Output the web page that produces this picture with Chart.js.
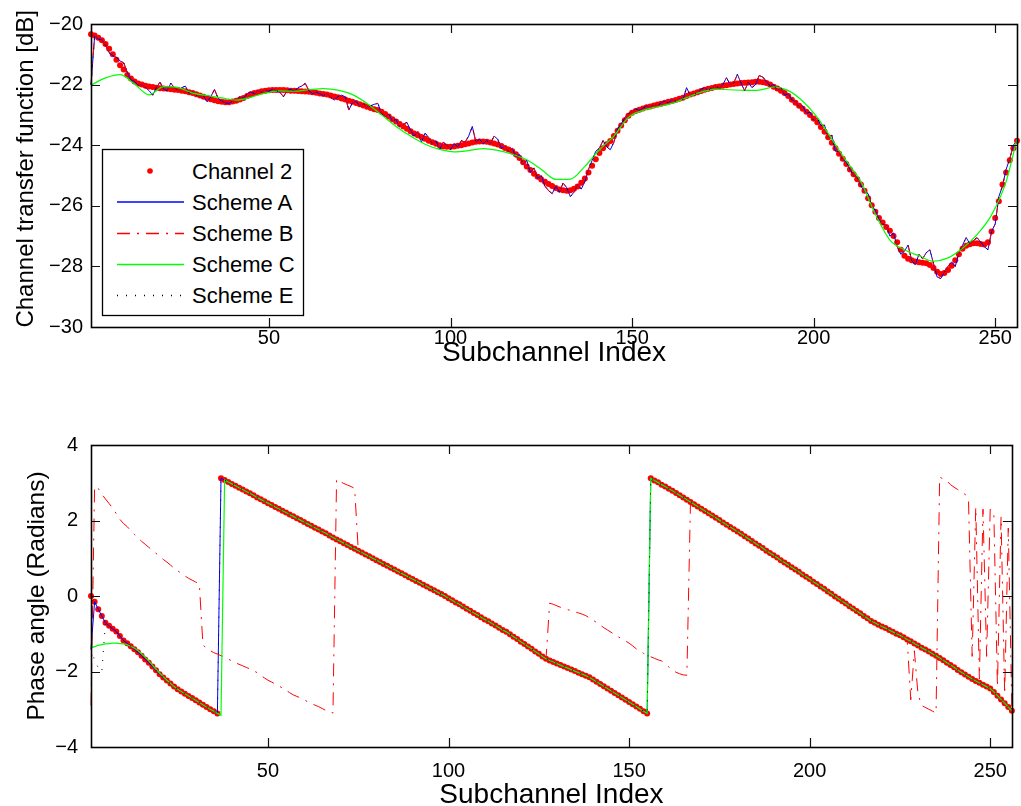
<!DOCTYPE html>
<html>
<head>
<meta charset="utf-8">
<title>Channel transfer function</title>
<script src="https://cdn.jsdelivr.net/npm/chart.js@4.4.1/dist/chart.umd.min.js"></script>
<style>
  body { margin: 0; background: #fff; width: 1021px; height: 806px; overflow: hidden; position: relative; }
  canvas { position: absolute; left: 0; }
  #mag-chart { top: 0; }
  #phase-chart { top: 400px; }
  #legend { position: absolute; left: 0; top: 0; pointer-events: none; }
</style>
</head>
<body>
<canvas id="mag-chart" width="1021" height="400"></canvas>
<canvas id="phase-chart" width="1021" height="409"></canvas>
<svg id="legend" width="1021" height="400"></svg>

<script>
// series names (legend order)
const seriesNames = ['Channel 2', 'Scheme A', 'Scheme B', 'Scheme C', 'Scheme E'];

// axis ticks
const xTicks = [50, 100, 150, 200, 250];
const magTicks = [-30, -28, -26, -24, -22, -20];
const phaseTicks = [-4, -2, 0, 2, 4];

// subchannel index 1..256
const subIdx = Array.from({ length: 256 }, (_, i) => i + 1);

// --- top plot: magnitude in dB ---
const magCh2 = [
  -20.34,-20.38,-20.45,-20.54,-20.66,-20.82,-21.0,-21.18,-21.36,-21.5,
  -21.68,-21.8,-21.9,-21.96,-22.0,-22.04,-22.06,-22.08,-22.1,-22.12,
  -22.13,-22.14,-22.15,-22.17,-22.18,-22.2,-22.22,-22.25,-22.28,-22.32,
  -22.36,-22.4,-22.44,-22.48,-22.52,-22.55,-22.57,-22.58,-22.58,-22.56,
  -22.53,-22.49,-22.44,-22.38,-22.32,-22.28,-22.25,-22.22,-22.2,-22.19,
  -22.18,-22.18,-22.18,-22.18,-22.19,-22.2,-22.2,-22.21,-22.22,-22.23,
  -22.24,-22.25,-22.27,-22.29,-22.31,-22.33,-22.36,-22.39,-22.42,-22.46,
  -22.49,-22.53,-22.57,-22.61,-22.65,-22.69,-22.73,-22.77,-22.81,-22.84,
  -22.9,-22.97,-23.05,-23.14,-23.22,-23.3,-23.38,-23.46,-23.54,-23.61,
  -23.67,-23.73,-23.79,-23.85,-23.9,-23.95,-24.0,-24.04,-24.05,-24.05,
  -24.04,-24.02,-24.0,-23.97,-23.94,-23.91,-23.89,-23.88,-23.88,-23.89,
  -23.91,-23.94,-23.98,-24.03,-24.09,-24.14,-24.2,-24.3,-24.42,-24.56,
  -24.7,-24.82,-24.94,-25.04,-25.13,-25.21,-25.28,-25.35,-25.41,-25.46,
  -25.49,-25.5,-25.49,-25.44,-25.36,-25.24,-25.1,-24.9,-24.68,-24.46,
  -24.26,-24.1,-23.97,-23.86,-23.7,-23.52,-23.35,-23.18,-23.03,-22.93,
  -22.87,-22.83,-22.79,-22.75,-22.72,-22.69,-22.66,-22.63,-22.6,-22.57,
  -22.54,-22.51,-22.47,-22.43,-22.38,-22.33,-22.29,-22.25,-22.21,-22.17,
  -22.14,-22.11,-22.08,-22.06,-22.04,-22.02,-22.0,-21.98,-21.96,-21.95,
  -21.94,-21.93,-21.92,-21.91,-21.91,-21.92,-21.95,-22.0,-22.07,-22.13,
  -22.2,-22.28,-22.38,-22.5,-22.6,-22.7,-22.8,-22.9,-23.0,-23.12,
  -23.24,-23.4,-23.56,-23.74,-23.92,-24.1,-24.28,-24.45,-24.62,-24.8,
  -24.96,-25.12,-25.3,-25.5,-25.75,-25.98,-26.2,-26.4,-26.55,-26.7,
  -26.82,-27.0,-27.2,-27.45,-27.65,-27.75,-27.8,-27.84,-27.86,-27.88,
  -27.9,-27.95,-28.05,-28.18,-28.25,-28.22,-28.12,-27.98,-27.8,-27.6,
  -27.42,-27.32,-27.27,-27.24,-27.24,-27.26,-27.28,-27.2,-26.85,-26.4,
  -25.85,-25.3,-24.9,-24.5,-24.1,-23.85
];

// Scheme A (B and E lie on top of it in this plot)
const magA = [
  -22.0,-20.4,-20.5,-20.52,-20.7,-20.95,-21.05,-21.1,-21.22,-21.28,
  -21.6,-21.85,-21.9,-22.02,-22.0,-22.1,-22.2,-22.35,-22.1,-21.92,
  -22.15,-22.2,-21.95,-22.12,-22.2,-22.1,-22.05,-22.28,-22.25,-22.35,
  -22.42,-22.38,-22.57,-22.4,-22.16,-22.45,-22.55,-22.6,-22.62,-22.55,
  -22.5,-22.4,-22.45,-22.3,-22.24,-22.3,-22.2,-22.25,-22.18,-22.22,
  -22.15,-22.2,-22.25,-22.4,-22.2,-22.15,-22.22,-22.1,-22.05,-21.96,
  -22.2,-22.3,-22.25,-22.3,-22.36,-22.3,-22.42,-22.51,-22.4,-22.35,
  -22.4,-22.84,-22.6,-22.55,-22.7,-22.62,-22.75,-22.7,-22.65,-22.62,
  -22.95,-23.05,-22.98,-23.2,-23.15,-23.4,-23.3,-23.25,-23.5,-23.7,
  -23.55,-23.9,-23.6,-23.75,-23.95,-23.85,-24.15,-23.9,-24.0,-24.15,
  -23.95,-24.05,-23.85,-23.9,-23.7,-23.38,-23.9,-23.8,-23.95,-23.85,
  -23.95,-23.7,-23.8,-24.1,-24.05,-24.2,-24.1,-24.4,-24.3,-24.65,
  -24.5,-24.9,-24.75,-25.1,-25.0,-25.35,-25.5,-25.6,-25.35,-25.55,
  -25.25,-25.4,-25.7,-25.55,-25.3,-25.45,-25.2,-24.8,-24.5,-24.2,
  -24.1,-23.85,-24.05,-24.15,-23.9,-23.45,-23.3,-23.1,-22.95,-22.9,
  -22.8,-22.85,-22.78,-22.7,-22.75,-22.65,-22.7,-22.6,-22.55,-22.6,
  -22.5,-22.55,-22.45,-22.5,-22.1,-22.35,-22.3,-22.3,-22.15,-22.1,
  -22.2,-22.1,-22.05,-22.12,-22.0,-21.77,-22.0,-21.95,-21.66,-21.95,
  -22.2,-21.92,-22.1,-22.0,-21.7,-21.75,-21.9,-22.05,-22.0,-22.2,
  -22.1,-22.35,-22.3,-22.5,-22.55,-22.75,-22.7,-22.95,-22.9,-23.2,
  -23.1,-23.35,-23.34,-23.75,-23.67,-24.2,-24.2,-24.5,-24.55,-24.8,
  -25.0,-25.05,-25.35,-25.5,-25.6,-26.0,-26.15,-26.45,-26.6,-26.65,
  -27.0,-26.9,-27.35,-27.6,-27.5,-27.3,-27.8,-27.95,-27.6,-27.75,
  -27.55,-27.45,-27.9,-28.35,-28.4,-28.2,-28.0,-27.85,-28.0,-27.55,
  -27.3,-27.05,-27.25,-27.15,-27.05,-27.2,-27.35,-27.45,-26.85,-26.6,
  -25.7,-25.35,-24.8,-24.45,-24.0,-23.85
];

// Scheme C is smooth, read every 4th subchannel
const magCIdx = [
  1,5,9,13,17,21,25,29,33,37,41,45,49,53,57,61,65,69,73,77,81,85,89,93,97,
  101,105,109,113,117,121,125,129,133,137,141,145,149,153,157,161,165,169,173,177,
  181,185,189,193,197,201,205,209,213,217,221,225,229,233,237,241,245,249,253,256
];
const magC = [
  -22.02,-21.78,-21.67,-21.98,-22.34,-22.07,-22.1,-22.28,-22.36,-22.44,
  -22.51,-22.42,-22.28,-22.21,-22.22,-22.17,-22.13,-22.18,-22.33,-22.62,
  -23.0,-23.38,-23.7,-23.97,-24.14,-24.22,-24.18,-24.11,-24.17,-24.3,
  -24.48,-24.8,-25.13,-25.12,-24.7,-24.15,-23.7,-23.08,-22.85,-22.73,
  -22.62,-22.43,-22.25,-22.15,-22.17,-22.19,-22.18,-22.08,-22.2,-22.55,
  -23.08,-23.8,-24.52,-25.2,-26.28,-27.13,-27.45,-27.65,-27.83,-27.72,
  -27.4,-26.95,-26.3,-25.2,-23.8
];

// --- bottom plot: phase angle in radians ---
const phaseCh2 = [
  0.0,-0.15,-0.35,-0.53,-0.71,-0.79,-0.87,-0.94,-1.06,-1.18,
  -1.25,-1.33,-1.41,-1.49,-1.58,-1.68,-1.77,-1.87,-1.97,-2.07,
  -2.16,-2.24,-2.32,-2.40,-2.47,-2.53,-2.59,-2.65,-2.70,-2.76,
  -2.82,-2.88,-2.94,-3.0,-3.05,-3.11,3.12,3.07,3.02,2.97,
  2.92,2.87,2.82,2.77,2.72,2.67,2.61,2.56,2.51,2.46,
  2.41,2.36,2.31,2.26,2.21,2.16,2.11,2.06,2.01,1.96,
  1.91,1.86,1.81,1.76,1.71,1.66,1.60,1.55,1.50,1.45,
  1.40,1.35,1.30,1.25,1.20,1.15,1.10,1.05,1.00,0.95,
  0.90,0.85,0.80,0.75,0.70,0.65,0.60,0.55,0.50,0.45,
  0.40,0.35,0.30,0.25,0.20,0.15,0.10,0.05,0.00,-0.06,
  -0.11,-0.17,-0.22,-0.28,-0.34,-0.39,-0.45,-0.50,-0.56,-0.62,
  -0.67,-0.73,-0.78,-0.84,-0.90,-0.95,-1.01,-1.08,-1.14,-1.21,
  -1.27,-1.34,-1.40,-1.47,-1.53,-1.60,-1.66,-1.71,-1.75,-1.79,
  -1.83,-1.87,-1.91,-1.95,-1.99,-2.03,-2.07,-2.11,-2.15,-2.21,
  -2.27,-2.33,-2.39,-2.45,-2.51,-2.57,-2.63,-2.69,-2.75,-2.81,
  -2.87,-2.93,-2.99,-3.05,-3.11,3.12,3.06,3.01,2.95,2.90,
  2.84,2.79,2.73,2.67,2.61,2.55,2.49,2.43,2.37,2.31,
  2.25,2.19,2.13,2.07,2.01,1.95,1.89,1.83,1.77,1.71,
  1.65,1.58,1.52,1.46,1.39,1.33,1.27,1.20,1.14,1.08,
  1.02,0.95,0.89,0.83,0.76,0.70,0.64,0.57,0.51,0.45,
  0.38,0.32,0.25,0.19,0.12,0.06,-0.01,-0.07,-0.14,-0.20,
  -0.27,-0.33,-0.40,-0.46,-0.53,-0.59,-0.66,-0.71,-0.76,-0.81,
  -0.85,-0.90,-0.95,-1.00,-1.04,-1.09,-1.15,-1.20,-1.26,-1.31,
  -1.37,-1.42,-1.47,-1.53,-1.58,-1.64,-1.70,-1.77,-1.83,-1.89,
  -1.96,-2.02,-2.08,-2.14,-2.20,-2.25,-2.30,-2.35,-2.40,-2.45,
  -2.54,-2.64,-2.74,-2.84,-2.94,-3.04
];

// Scheme A: differs from channel only at subchannel 1
const phaseAStart = [-1.40];
// Scheme C: own start (1..23) and wraps one subchannel later at 37
const phaseCStart = [
  -1.38,-1.34,-1.31,-1.29,-1.27,-1.26,-1.25,-1.25,-1.26,-1.27,
  -1.29,-1.33,-1.38,-1.45,-1.53,-1.62,-1.72,-1.83,-1.94,-2.04,
  -2.14,-2.23,-2.31
];
const phaseCAt37 = [-3.16];
// Scheme E: own start (1..4)
const phaseEStart = [-1.40, -1.70, -1.90, -2.00];
// Scheme B: own values on 1..75, 128..166 and 228..256, channel elsewhere
const phaseB1 = [
  -2.9,2.9,2.85,2.7,2.57,2.45,2.33,2.18,2.03,1.92,
  1.84,1.73,1.63,1.54,1.45,1.37,1.29,1.21,1.13,1.05,
  0.97,0.9,0.82,0.74,0.67,0.6,0.53,0.47,0.42,0.37,
  0.32,-1.3,-1.38,-1.45,-1.5,-1.54,-1.58,-1.62,-1.67,-1.72,
  -1.77,-1.81,-1.85,-1.89,-1.93,-1.98,-2.03,-2.1,-2.17,-2.23,
  -2.28,-2.33,-2.38,-2.44,-2.5,-2.56,-2.62,-2.66,-2.7,-2.75,
  -2.8,-2.85,-2.89,-2.93,-2.98,-3.03,-3.07,-3.1,3.09,3.03,
  2.98,2.94,2.9,2.85,1.22
];
const phaseB2 = [
  -0.19,-0.22,-0.26,-0.3,-0.33,-0.36,-0.39,-0.42,-0.45,-0.48,
  -0.52,-0.58,-0.64,-0.7,-0.77,-0.84,-0.9,-0.96,-1.02,-1.08,
  -1.14,-1.19,-1.25,-1.32,-1.4,-1.46,-1.52,-1.57,-1.61,-1.65,
  -1.69,-1.72,-1.8,-1.88,-1.96,-2.02,-2.06,-2.09,-2.1
];
const phaseB3 = [
  -2.75,-1.45,-2.6,-2.9,-2.95,-3.0,-3.05,-3.1,
  3.15,3.1,3.05,2.95,2.88,2.82,2.76,2.7,
  2.5,-1.6,2.35,-2.2,2.3,-1.6,2.3,2.2,-2.4,2.1,-2.6,1.8,-3.0
];

const phaseA = phaseAStart.concat(phaseCh2.slice(1));
const phaseC = phaseCStart.concat(phaseCh2.slice(23, 36), phaseCAt37, phaseCh2.slice(37));
const phaseE = phaseEStart.concat(phaseCh2.slice(4));
const phaseB = phaseB1.concat(phaseCh2.slice(75, 127), phaseB2, phaseCh2.slice(166, 227), phaseB3);

const FONT = "'Liberation Sans', Arial, Helvetica, sans-serif";
const styles = {
  'Channel 2': { color: '#ff0000' },
  'Scheme A': { color: '#0000ff', dash: [] },
  'Scheme B': { color: '#ff0000', dash: [13, 7, 2, 7] },
  'Scheme C': { color: '#00ff00', dash: [] },
  'Scheme E': { color: '#000000', dash: [1, 8] }
};

function pts(xs, ys) {
  return xs.map((x, i) => ({ x: x, y: ys[i] }));
}

function fmt(v) {
  return v < 0 ? '\u2212' + Math.abs(v) : String(v);
}

// MATLAB style box with inward ticks on all four sides
const boxTicks = {
  id: 'boxTicks',
  afterDatasetsDraw(chart, args, o) {
    const { ctx, chartArea: a, scales: { x, y } } = chart;
    ctx.save();
    ctx.strokeStyle = '#111';
    ctx.lineWidth = 1.2;
    ctx.beginPath();
    o.xTicks.forEach(v => {
      const px = Math.round(x.getPixelForValue(v)) + 0.5;
      ctx.moveTo(px, a.bottom); ctx.lineTo(px, a.bottom - 9);
      ctx.moveTo(px, a.top); ctx.lineTo(px, a.top + 9);
    });
    o.yTicks.forEach(v => {
      const py = Math.round(y.getPixelForValue(v)) + 0.5;
      ctx.moveTo(a.left, py); ctx.lineTo(a.left + 9, py);
      ctx.moveTo(a.right, py); ctx.lineTo(a.right - 9, py);
    });
    ctx.stroke();
    ctx.lineWidth = 1.6;
    ctx.strokeStyle = '#000';
    ctx.strokeRect(Math.round(a.left) + 0.5, Math.round(a.top) + 0.5, Math.round(a.width), Math.round(a.height));
    ctx.restore();
  }
};

function makeChart(id, cfg) {
  const datasets = [
    {
      label: 'Channel 2', data: pts(subIdx, cfg.ch2), showLine: false,
      pointRadius: 3, pointBackgroundColor: '#ff0000', pointBorderWidth: 0, order: 5
    },
    {
      label: 'Scheme A', data: pts(subIdx, cfg.a), borderColor: styles['Scheme A'].color,
      borderWidth: 1, pointRadius: 0, order: 4
    },
    {
      label: 'Scheme B', data: pts(subIdx, cfg.b), borderColor: styles['Scheme B'].color,
      borderDash: styles['Scheme B'].dash, borderWidth: 1, pointRadius: 0, order: 3
    },
    {
      label: 'Scheme C', data: pts(cfg.cIdx, cfg.c), borderColor: styles['Scheme C'].color,
      borderWidth: 1.2, pointRadius: 0, cubicInterpolationMode: cfg.smoothC ? 'monotone' : 'default', order: 2
    },
    {
      label: 'Scheme E', data: pts(subIdx, cfg.e), borderColor: styles['Scheme E'].color,
      borderDash: styles['Scheme E'].dash, borderWidth: 1, pointRadius: 0, order: 1
    }
  ];

  return new Chart(document.getElementById(id), {
    type: 'line',
    data: { datasets: datasets },
    options: {
      responsive: false,
      devicePixelRatio: 1,
      animation: false,
      clip: false,
      layout: { padding: { left: 0, right: 1, top: cfg.padTop, bottom: 0 } },
      plugins: {
        legend: { display: false },
        tooltip: { enabled: false },
        boxTicks: { xTicks: xTicks, yTicks: cfg.yTicks }
      },
      scales: {
        x: {
          type: 'linear', min: 1, max: 256,
          afterBuildTicks: s => { s.ticks = xTicks.map(v => ({ value: v })); },
          afterFit: s => { s.height = cfg.xHeight; },
          grid: { display: false, drawTicks: false },
          border: { display: false },
          ticks: { color: '#000', padding: cfg.xTickPad, maxRotation: 0, autoSkip: false,
                   font: { family: FONT, size: 20, lineHeight: 1 } },
          title: { display: true, text: 'Subchannel Index', color: '#000',
                   padding: { top: 0, bottom: cfg.xTitlePad },
                   font: { family: FONT, size: 28, lineHeight: 1 } }
        },
        y: {
          type: 'linear', min: cfg.yTicks[0], max: cfg.yTicks[cfg.yTicks.length - 1],
          afterBuildTicks: s => { s.ticks = cfg.yTicks.map(v => ({ value: v })); },
          afterFit: s => { s.width = 91; },
          grid: { display: false, drawTicks: false },
          border: { display: false },
          ticks: { color: '#000', padding: cfg.yTickPad, callback: v => fmt(v),
                   font: { family: FONT, size: 20, lineHeight: 1 } },
          title: { display: true, text: cfg.yTitle, color: '#000',
                   padding: { top: cfg.yTitlePad, bottom: 0 },
                   font: { family: FONT, size: cfg.yTitleSize, lineHeight: 1 } }
        }
      }
    },
    plugins: [boxTicks]
  });
}

makeChart('mag-chart', {
  ch2: magCh2, a: magA, b: magA, c: magC, cIdx: magCIdx, e: magA, smoothC: true,
  yTicks: magTicks, yTitle: '  Channel transfer function [dB]', yTitleSize: 24,
  padTop: 24, xHeight: 73, xTickPad: 1, xTitlePad: 33, yTickPad: 8, yTitlePad: 14
});

makeChart('phase-chart', {
  ch2: phaseCh2, a: phaseA, b: phaseB, c: phaseC, cIdx: subIdx, e: phaseE, smoothC: false,
  yTicks: phaseTicks, yTitle: 'Phase angle (Radians)', yTitleSize: 24.5,
  padTop: 45, xHeight: 62, xTickPad: 14, xTitlePad: 0, yTickPad: 13, yTitlePad: 24.75
});

// legend box inside the top axes
(function drawLegend() {
  const svg = document.getElementById('legend');
  const NS = 'http://www.w3.org/2000/svg';
  const box = { x: 102.5, y: 149.5, w: 201, h: 166 };
  const rowY = [171, 202, 233.5, 264.5, 295.5];
  function el(name, attrs, text) {
    const e = document.createElementNS(NS, name);
    Object.keys(attrs).forEach(k => e.setAttribute(k, attrs[k]));
    if (text) e.textContent = text;
    svg.appendChild(e);
    return e;
  }
  el('rect', { x: box.x, y: box.y, width: box.w, height: box.h, fill: '#fff', stroke: '#000', 'stroke-width': 1.3 });
  seriesNames.forEach((name, i) => {
    const y = rowY[i];
    const st = styles[name];
    if (name === 'Channel 2') {
      el('circle', { cx: 150, cy: y, r: 2.8, fill: st.color });
    } else {
      el('line', { x1: 117, x2: 184, y1: y, y2: y, stroke: st.color, 'stroke-width': 1.3,
                   'stroke-dasharray': st.dash.length ? st.dash.join(' ') : 'none' });
    }
    el('text', { x: 192, y: y, 'dominant-baseline': 'central', 'font-family': FONT, 'font-size': 22, fill: '#000' }, name);
  });
})();
</script>
</body>
</html>
